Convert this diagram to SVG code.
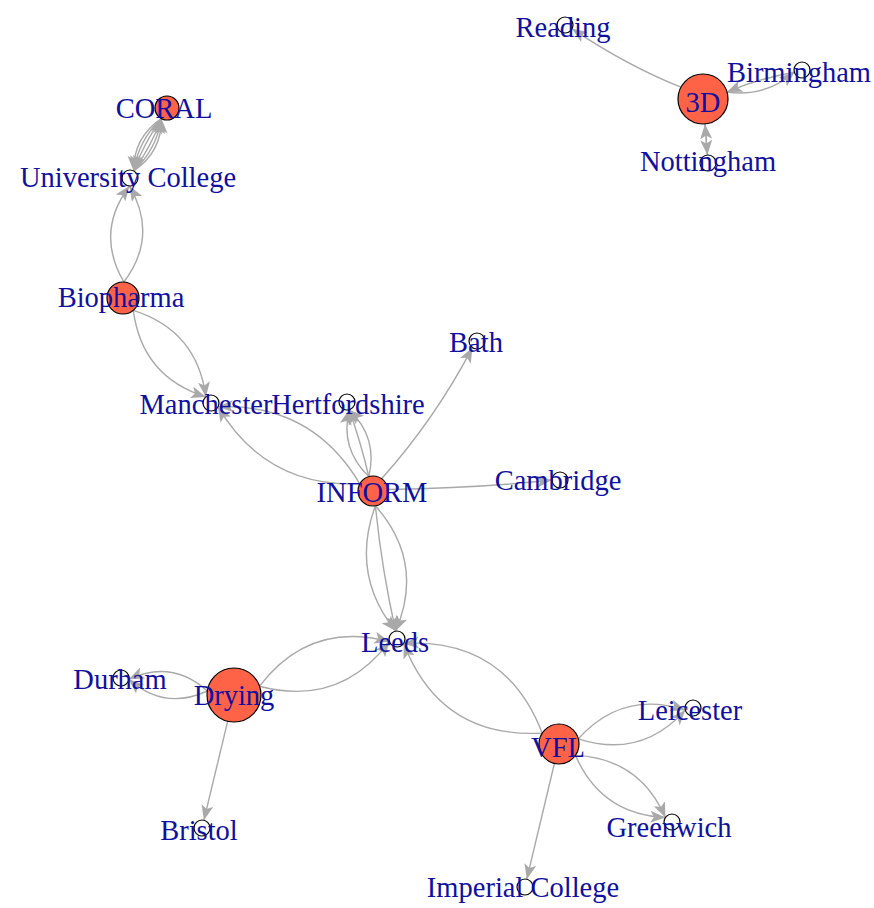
<svg xmlns="http://www.w3.org/2000/svg" width="874" height="908" viewBox="0 0 874 908">
<defs>
<style>
.e{fill:none;stroke:#A9A9A9;stroke-width:1.4;marker-end:url(#ah)}
.o{fill:#FF6347;stroke:#000;stroke-width:1.2}
.w{fill:#fff;stroke:#000;stroke-width:1.2}
.t{font-family:"Liberation Serif","Times New Roman",serif;font-size:28.5px;fill:#1010a0;text-anchor:middle}
</style>
<marker id="ah" markerUnits="userSpaceOnUse" markerWidth="16" markerHeight="13" refX="15" refY="6" orient="auto">
<path d="M0,0 L15,6 L0,12 L3.5,6 z" fill="#A9A9A9"/>
</marker>
</defs>
<rect width="874" height="908" fill="#fff"/>
<g id="edges">
<path class="e" d="M133.7,170.9 Q151.1,146.7 161.4,118.6"/>
<path class="e" d="M133.7,170.9 Q156.5,149.5 161.4,118.6"/>
<path class="e" d="M133.7,170.9 Q161.8,152.3 161.4,118.6"/>
<path class="e" d="M161.4,118.6 Q144.1,142.9 133.7,170.9"/>
<path class="e" d="M161.4,118.6 Q138.7,140.1 133.7,170.9"/>
<path class="e" d="M161.4,118.6 Q133.4,137.3 133.7,170.9"/>
<path class="e" d="M123.9,282 Q158.6,235.9 129.5,186"/>
<path class="e" d="M123.9,282 Q94.8,232.1 129.5,186"/>
<path class="e" d="M133.3,310.3 Q197.2,330.5 205.9,396.9"/>
<path class="e" d="M133.3,310.3 Q142,376.7 205.9,396.9"/>
<path class="e" d="M359.8,483.8 Q311.8,403.1 218,406.8"/>
<path class="e" d="M359.8,483.8 Q266,487.5 218,406.8"/>
<path class="e" d="M368.8,476.6 Q378.2,437.6 349.2,409.7"/>
<path class="e" d="M368.8,476.6 Q360.9,442.6 349.2,409.7"/>
<path class="e" d="M368.8,476.6 Q339.8,448.8 349.2,409.7"/>
<path class="e" d="M381.6,478.7 Q435,419 472.4,347.6"/>
<path class="e" d="M388,489.5 Q480,488 552,480"/>
<path class="e" d="M375.4,505.8 Q350.1,574.3 395.7,631.1"/>
<path class="e" d="M375.4,505.8 Q381.7,569.1 395.7,631.1"/>
<path class="e" d="M375.4,505.8 Q425.1,562.1 395.7,631.1"/>
<path class="e" d="M259.5,686.2 Q309.5,620.4 389.4,641.6"/>
<path class="e" d="M259.5,686.2 Q339.5,707.4 389.4,641.6"/>
<path class="e" d="M542.2,733.1 Q505.6,638 403.7,643.4"/>
<path class="e" d="M542.2,733.1 Q440.4,738.6 403.7,643.4"/>
<path class="e" d="M207.3,691 Q172,659.4 128.9,679.2"/>
<path class="e" d="M207.3,691 Q164.2,710.8 128.9,679.2"/>
<path class="e" d="M227.7,721.2 L203.9,820.2"/>
<path class="e" d="M578.3,738.8 Q622.5,689.8 685.3,710.1"/>
<path class="e" d="M578.3,738.8 Q641.1,759.2 685.3,710.1"/>
<path class="e" d="M575.5,755.4 Q639.7,758.4 665.4,817.5"/>
<path class="e" d="M575.5,755.4 Q601.1,814.4 665.4,817.5"/>
<path class="e" d="M554.4,763.5 L526.8,879.2"/>
<path class="e" d="M681,87.2 Q628,66 572,28.8"/>
<path class="e" d="M727,92 Q765.2,97.4 794.3,72.2"/>
<path class="e" d="M794.3,72.2 Q759.6,78.3 727,92"/>
<path class="e" d="M705,124 L707.4,155"/>
<path class="e" d="M707.4,155 L705,124"/>
</g>
<g id="n-CORAL"><circle class="o" cx="167" cy="108" r="12"/><text class="t" x="164" y="118">CORAL</text></g>
<g id="n-UniversityCollege"><circle class="w" cx="130" cy="178" r="8"/><text class="t" x="128" y="187">University College</text></g>
<g id="n-Biopharma"><circle class="o" cx="123" cy="298" r="16"/><text class="t" x="121" y="307">Biopharma</text></g>
<g id="n-Manchester"><circle class="w" cx="211" cy="403" r="8"/><text class="t" x="206" y="414">Manchester</text></g>
<g id="n-Hertfordshire"><circle class="w" cx="347" cy="402" r="8"/><text class="t" x="348" y="414">Hertfordshire</text></g>
<g id="n-Bath"><circle class="w" cx="477" cy="341" r="8"/><text class="t" x="476" y="352">Bath</text></g>
<g id="n-INFORM"><circle class="o" cx="373" cy="491" r="15"/><text class="t" x="372" y="502">INFORM</text></g>
<g id="n-Cambridge"><circle class="w" cx="560" cy="480" r="8"/><text class="t" x="558" y="490">Cambridge</text></g>
<g id="n-Leeds"><circle class="w" cx="397" cy="639" r="8"/><text class="t" x="395" y="652">Leeds</text></g>
<g id="n-Drying"><circle class="o" cx="234" cy="695" r="27"/><text class="t" x="234" y="705">Drying</text></g>
<g id="n-Durham"><circle class="w" cx="121" cy="678" r="8"/><text class="t" x="120" y="689">Durham</text></g>
<g id="n-Bristol"><circle class="w" cx="202" cy="828" r="8"/><text class="t" x="199" y="840">Bristol</text></g>
<g id="n-VFL"><circle class="o" cx="559" cy="744" r="20"/><text class="t" x="558" y="757">VFL</text></g>
<g id="n-Leicester"><circle class="w" cx="693" cy="708" r="8"/><text class="t" x="690" y="720">Leicester</text></g>
<g id="n-Greenwich"><circle class="w" cx="672" cy="822" r="8"/><text class="t" x="669" y="837">Greenwich</text></g>
<g id="n-ImperialCollege"><circle class="w" cx="525" cy="887" r="8"/><text class="t" x="523" y="897">Imperial College</text></g>
<g id="n-3D"><circle class="o" cx="703" cy="99" r="25"/><text class="t" x="703" y="112">3D</text></g>
<g id="n-Reading"><circle class="w" cx="565" cy="25" r="8"/><text class="t" x="563" y="37">Reading</text></g>
<g id="n-Birmingham"><circle class="w" cx="802" cy="70" r="8"/><text class="t" x="799" y="82">Birmingham</text></g>
<g id="n-Nottingham"><circle class="w" cx="708" cy="163" r="8"/><text class="t" x="708" y="171">Nottingham</text></g>
</svg>
